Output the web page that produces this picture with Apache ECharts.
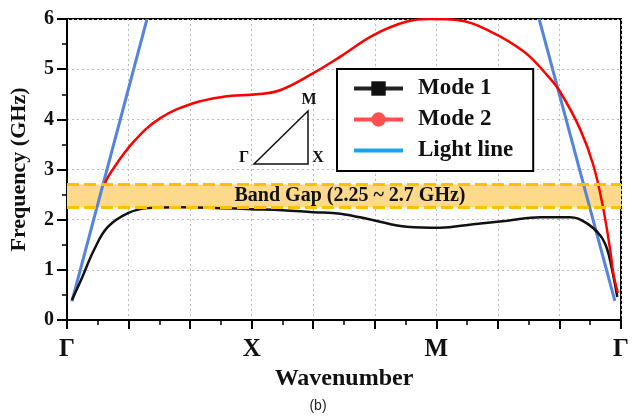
<!DOCTYPE html>
<html>
<head>
<meta charset="utf-8">
<script src="https://cdn.jsdelivr.net/npm/echarts@6/dist/echarts.min.js"></script>
<style>
html,body{margin:0;padding:0;background:#fff;}
#chart{width:636px;height:419px;}
</style>
</head>
<body>
<div id="chart"></div>
<script>
// ---- data ----
const kPointLabels = ['Γ', 'X', 'M', 'Γ'];
const kPointPositions = [0, 3, 6, 9];
const yTicks = [0, 1, 2, 3, 4, 5, 6];
const mode1 = [[0.08,0.40],[0.23,0.80],[0.44,1.40],[0.66,1.85],[0.99,2.13],[1.31,2.23],[1.85,2.25],[2.5,2.23],[3.0,2.21],[3.5,2.19],[4.0,2.15],[4.44,2.12],[4.98,1.99],[5.52,1.86],[6.06,1.84],[6.6,1.91],[7.15,1.98],[7.69,2.05],[8.17,2.05],[8.44,1.93],[8.66,1.69],[8.77,1.43],[8.85,1.03],[8.94,0.46]];
const mode2 = [[0.6,2.68],[0.70,2.92],[1.08,3.55],[1.51,4.02],[2.05,4.32],[2.54,4.45],[3.08,4.50],[3.46,4.58],[4.0,4.92],[4.44,5.25],[4.98,5.68],[5.52,5.95],[5.90,6.0],[6.33,5.98],[6.88,5.75],[7.42,5.35],[7.80,4.88],[8.01,4.55],[8.33,3.82],[8.55,3.09],[8.71,2.23],[8.82,1.43],[8.88,0.9],[8.95,0.54]];
const lightLineLeft = [[0.08,0.37],[1.30,6.0]];
const lightLineRight = [[7.67,6.0],[8.90,0.38]];
const bandGap = [2.25, 2.7];
const bandLabel = 'Band Gap (2.25 ~ 2.7 GHz)';

const serif = '"Liberation Serif","Times New Roman",serif';
const chart = echarts.init(document.getElementById('chart'), null, {renderer:'canvas'});

const option = {
  backgroundColor: '#fff',
  animation: false,
  grid: {left: 66, right: 15, top: 19, bottom: 99, show: true, borderColor: '#000', borderWidth: 2, backgroundColor: 'transparent'},
  legend: {
    left: 337, top: 69, orient: 'vertical',
    backgroundColor: '#fff', borderColor: '#000', borderWidth: 2,
    padding: [8, 20, 9, 15],
    itemWidth: 49, itemHeight: 18, itemGap: 8,
    textStyle: {fontFamily: serif, fontWeight: 'bold', fontSize: 23, color: '#111', padding: [0,0,0,10]},
    data: [
      {name: 'Mode 1', itemStyle: {color: '#111'}, lineStyle: {color: '#222', width: 4}},
      {name: 'Mode 2', itemStyle: {color: '#FF5050'}, lineStyle: {color: '#FF5050', width: 4}},
      {name: 'Light line', itemStyle: {color: 'rgba(0,0,0,0)', borderWidth: 0, opacity: 0}, lineStyle: {color: '#1BA1F2', width: 4}}
    ]
  },
  xAxis: {
    type: 'value', min: 0, max: 9, interval: 1,
    name: 'Wavenumber', nameLocation: 'middle', nameGap: 47,
    nameTextStyle: {fontFamily: serif, fontWeight: 'bold', fontSize: 24, color: '#111'},
    axisLine: {lineStyle: {color: '#000', width: 2}},
    axisTick: {show: true, inside: false, length: 9, lineStyle: {color: '#000', width: 2}},
    minorTick: {show: true, splitNumber: 2, length: 5, lineStyle: {color: '#000', width: 1.5}},
    splitLine: {show: true, lineStyle: {color: '#bbb', width: 1, type: [2, 3]}},
    axisLabel: {
      margin: 17, fontFamily: serif, fontWeight: 'bold', fontSize: 25, color: '#111',
      formatter: v => { const i = kPointPositions.indexOf(Math.round(v)); return i >= 0 ? kPointLabels[i] : ''; }
    }
  },
  yAxis: {
    type: 'value', min: yTicks[0], max: yTicks[yTicks.length-1], interval: 1,
    name: 'Frequency (GHz)', nameLocation: 'middle', nameGap: 37,
    nameTextStyle: {fontFamily: serif, fontWeight: 'bold', fontSize: 22, color: '#111'},
    axisLine: {show: true, lineStyle: {color: '#000', width: 2}},
    axisTick: {show: true, inside: false, length: 10, lineStyle: {color: '#000', width: 2}},
    minorTick: {show: true, splitNumber: 2, length: 5, lineStyle: {color: '#000', width: 1.5}},
    splitLine: {show: true, lineStyle: {color: '#bbb', width: 1, type: [2, 3]}},
    axisLabel: {margin: 13, fontFamily: serif, fontWeight: 'bold', fontSize: 20, color: '#111'}
  },
  series: [
    {
      name: 'band', type: 'line', data: [], z: 1, silent: true,
      markArea: {
        silent: true,
        itemStyle: {color: '#FCD98B'},
        label: {show: true, position: 'inside', offset: [6, 0], formatter: bandLabel, fontFamily: serif, fontWeight: 'bold', fontSize: 20, color: '#111'},
        data: [[{yAxis: bandGap[0]}, {yAxis: bandGap[1]}]]
      },
      markLine: {
        silent: true, symbol: 'none', label: {show: false},
        lineStyle: {color: '#FFC000', width: 3, type: [12, 5]},
        data: [{yAxis: bandGap[0]}, {yAxis: bandGap[1]}]
      }
    },
    {name: 'Mode 1', type: 'line', data: mode1, smooth: 0.4, symbol: 'rect', showSymbol: false, z: 3,
     itemStyle: {color: '#111'}, lineStyle: {color: '#111', width: 2.5}},
    {name: 'Mode 2', type: 'line', data: mode2, smooth: 0.4, symbol: 'circle', showSymbol: false, z: 3,
     itemStyle: {color: '#FF5050'}, lineStyle: {color: '#FF0000', width: 2.5}},
    {name: 'Light line', type: 'line', data: lightLineLeft, symbol: 'none', z: 2,
     itemStyle: {color: '#1BA1F2'}, lineStyle: {color: '#5484DC', width: 3}},
    {name: 'Light line', type: 'line', data: lightLineRight, symbol: 'none', z: 2,
     itemStyle: {color: '#1BA1F2'}, lineStyle: {color: '#5484DC', width: 3}}
  ],
  graphic: [
    {type: 'polygon', z: 10, shape: {points: [[254,164],[308,164],[308,111]]}, style: {fill: 'none', stroke: '#111', lineWidth: 1.5}},
    {type: 'text', z: 10, x: 244, y: 158, style: {text: 'Γ', font: 'bold 16px ' + serif, fill: '#111', textAlign: 'center', textVerticalAlign: 'middle'}},
    {type: 'text', z: 10, x: 318, y: 158, style: {text: 'X', font: 'bold 16px ' + serif, fill: '#111', textAlign: 'center', textVerticalAlign: 'middle'}},
    {type: 'text', z: 10, x: 309, y: 100, style: {text: 'M', font: 'bold 16px ' + serif, fill: '#111', textAlign: 'center', textVerticalAlign: 'middle'}},
    {type: 'text', z: 10, x: 318, y: 406, style: {text: '(b)', font: '14px "Liberation Sans", Arial, sans-serif', fill: '#222', textAlign: 'center', textVerticalAlign: 'middle'}}
  ]
};
chart.setOption(option);
</script>
</body>
</html>
